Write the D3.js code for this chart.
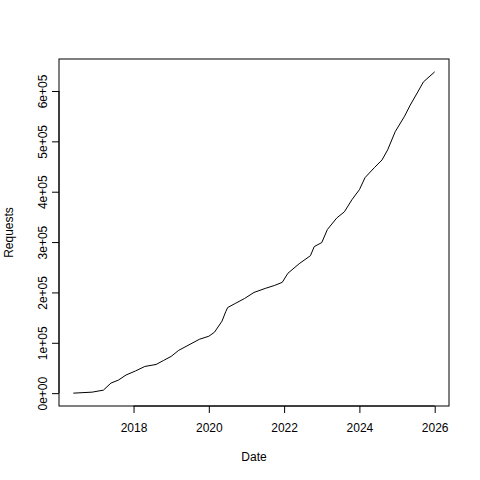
<!DOCTYPE html><html><head><script src="https://cdn.jsdelivr.net/npm/d3@7"></script>
<style>body{margin:0;background:#fff}text{font-family:"Liberation Sans",Arial,sans-serif;font-size:12px}</style></head><body>
<svg width="480" height="480"></svg>
<script>
const years=[2016.4,2016.9,2017.2,2017.4,2017.6,2017.8,2018.05,2018.3,2018.6,2018.8,2019.0,2019.2,2019.5,2019.75,2020.0,2020.15,2020.35,2020.45,2020.5,2020.7,2020.95,2021.2,2021.5,2021.75,2021.95,2022.1,2022.4,2022.7,2022.8,2023.0,2023.15,2023.4,2023.6,2023.8,2024.0,2024.15,2024.4,2024.6,2024.75,2024.95,2025.2,2025.35,2025.55,2025.7,2026.0];
const requests=[0,2000,6000,20000,26000,36000,44000,53000,57000,65000,73000,85000,97000,107000,113000,121000,143000,162000,170000,178000,188000,200000,208000,214000,220000,238000,257000,273000,291000,299000,325000,348000,360000,384000,404000,428000,448000,463000,483000,519000,550000,572000,598000,618000,638000];
const xTicks=[2018,2020,2022,2024,2026];
const yTicks=[0,1e5,2e5,3e5,4e5,5e5,6e5];
const yLabels=["0e+00","1e+05","2e+05","3e+05","4e+05","5e+05","6e+05"];
const svg=d3.select("svg");
const L=59,R=449,T=59,B=406;
const x=d3.scaleLinear().domain([2016.02,2026.38]).range([L,R]);
const y=d3.scaleLinear().domain([-25520,663520]).range([B,T]);
svg.append("rect").attr("x",L).attr("y",T).attr("width",R-L).attr("height",B-T).attr("fill","none").attr("stroke","#000");
const line=d3.line().x((d,i)=>x(years[i])).y(d=>y(d));
svg.append("path").attr("d",line(requests)).attr("fill","none").attr("stroke","#000").attr("stroke-width",1);
const xa=svg.append("g").attr("transform",`translate(0,${B})`).call(d3.axisBottom(x).tickValues(xTicks).tickFormat(d3.format("d")).tickSize(7).tickPadding(10));
const ya=svg.append("g").attr("transform",`translate(${L},0)`).call(d3.axisLeft(y).tickValues(yTicks).tickFormat((d,i)=>yLabels[i]).tickSize(7));
[xa,ya].forEach(a=>{a.select(".domain").remove();a.selectAll("text").attr("fill","#000").style("font-size","12px");});
xa.select(".domain").remove();
svg.append("line").attr("x1",x(2018)).attr("x2",x(2026)).attr("y1",B).attr("y2",B).attr("stroke","#000");
svg.append("line").attr("x1",L).attr("x2",L).attr("y1",y(0)).attr("y2",y(6e5)).attr("stroke","#000");
ya.selectAll("text").attr("transform",d=>`rotate(-90,-16,${y(d)})`).attr("x",-16).attr("dy","0.35em").attr("text-anchor","middle").attr("y",null);
ya.selectAll(".tick text").each(function(d){d3.select(this).attr("x",-16).attr("y",0).attr("transform","translate(-16,0) rotate(-90) translate(16,0)").attr("dy","0.35em");});
svg.append("text").attr("x",(L+R)/2).attr("y",461).attr("text-anchor","middle").text("Date");
svg.append("text").attr("transform",`translate(13,${(T+B)/2}) rotate(-90)`).attr("text-anchor","middle").text("Requests");
</script></body></html>
